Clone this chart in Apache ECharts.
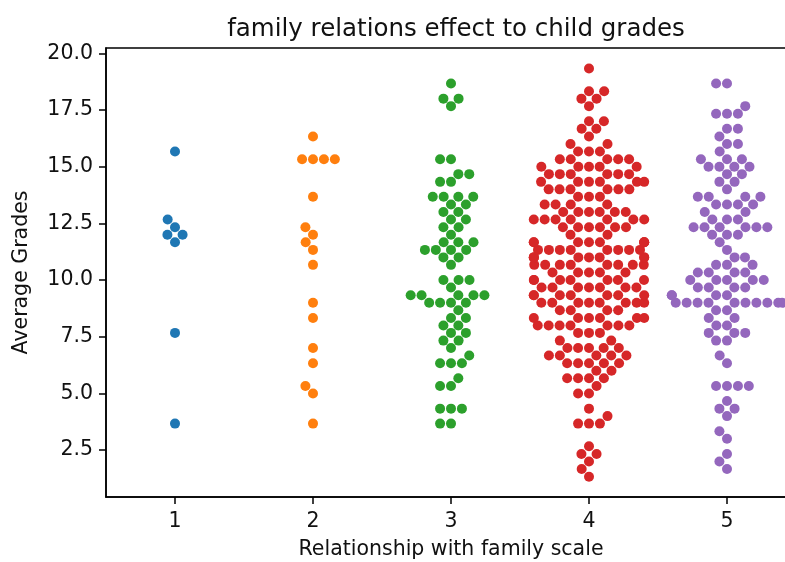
<!DOCTYPE html>
<html>
<head>
<meta charset="utf-8" />
<title>family relations effect to child grades</title>
<script src="https://cdn.jsdelivr.net/npm/echarts@6/dist/echarts.min.js"></script>
</head>
<body style="margin:0">
<div id="main" style="width:785px;height:562px;"></div>
<script type="text/javascript">
// famrel levels and average grades, one value per swarm row with how many students sit on it
const categories = [1, 2, 3, 4, 5];
const colors = ['#1f77b4', '#ff7f0e', '#2ca02c', '#d62728', '#9467bd'];

const fam1Grades = [15.67, 12.67, 12.33, 12, 11.67, 7.67, 3.67];
const fam1Counts = [1, 1, 1, 2, 1, 1, 1];

const fam2Grades = [16.33, 15.33, 13.67, 12.33, 12, 11.67, 11.33, 10.67, 9, 8.33, 7, 6.33, 5.33, 5, 3.67];
const fam2Counts = [1, 4, 1, 1, 1, 1, 1, 1, 1, 1, 1, 1, 1, 1, 1];

const fam3Grades = [18.67, 18, 17.67, 15.33, 14.67, 14.33, 13.67, 13.33, 13, 12.67, 12.33, 12, 11.67, 11.33, 11,
  10.67, 10, 9.67, 9.33, 9, 8.67, 8.33, 8, 7.67, 7.33, 7, 6.67, 6.33, 5.67, 5.33, 4.33, 3.67];
const fam3Counts = [1, 2, 1, 2, 2, 2, 4, 2, 2, 2, 2, 1, 3, 4, 2, 1, 3, 1, 5, 4, 1, 2, 2, 2, 2, 1, 1, 3, 1, 2, 3, 2];

const fam4Grades = [19.33, 18.33, 18, 17.67, 17, 16.67, 16.33, 16, 15.67, 15.33, 15, 14.67, 14.33, 14, 13.67, 13.33,
  13, 12.67, 12.33, 12, 11.67, 11.33, 11, 10.67, 10.33, 10, 9.67, 9.33, 9, 8.67, 8.33, 8, 7.67, 7.33, 7, 6.67,
  6.33, 6, 5.67, 5.33, 5, 4.33, 4, 3.67, 2.67, 2.33, 2, 1.67, 1.33];
const fam4Counts = [1, 2, 2, 1, 2, 2, 1, 2, 3, 5, 5, 6, 6, 6, 3, 4, 6, 7, 6, 2, 8, 8, 8, 8, 5, 7, 7, 7, 8, 4,
  6, 7, 3, 2, 5, 5, 5, 2, 4, 1, 2, 1, 1, 3, 1, 2, 1, 1, 1];

const fam5Grades = [18.67, 17.67, 17.33, 16.67, 16.33, 16, 15.67, 15.33, 15, 14.67, 14.33, 14, 13.67, 13.33, 13,
  12.67, 12.33, 12, 11.67, 11.33, 11, 10.67, 10.33, 10, 9.67, 9.33, 9, 8.67, 8.33, 8, 7.67, 7.33, 6.67, 6.33,
  5.33, 4.67, 4.33, 4, 3.33, 3, 2.33, 2, 1.67];
const fam5Counts = [2, 1, 3, 2, 1, 2, 1, 3, 4, 2, 2, 1, 4, 4, 2, 3, 6, 3, 1, 1, 2, 3, 4, 5, 4, 4, 10, 2, 2, 2, 3,
  2, 1, 1, 4, 1, 2, 1, 1, 1, 1, 1, 1];

const yTicks = [2.5, 5, 7.5, 10, 12.5, 15, 17.5, 20];

const grades = [fam1Grades, fam2Grades, fam3Grades, fam4Grades, fam5Grades];
const counts = [fam1Counts, fam2Counts, fam3Counts, fam4Counts, fam5Counts];

// plot box (matplotlib axes), the right side runs past the window edge
const gridLeft = 106, gridTop = 48, gridWidth = 690, gridHeight = 449;
const yMin = 0.4333, yMax = 20.2333;
const catPx = gridWidth / categories.length;
const pxPerUnit = gridHeight / (yMax - yMin);
const D = 10.4;            // marker diameter in px used by the swarm
const halfWidth = 0.4;     // gutter, in category units

// seaborn style beeswarm: place points bottom-up, closest free spot to the midline
function beeswarm(ys) {
  const out = [];
  ys.forEach(y => {
    const nb = [];
    for (let j = out.length - 1; j >= 0; j--) {
      if (y - out[j][1] < D) nb.push(out[j]);
      else break;
    }
    const cand = [[0, y]];
    let leftFirst = true;
    nb.forEach(([xj, yj]) => {
      const dy = y - yj;
      const dx = Math.sqrt(Math.max(D * D - dy * dy, 0)) * 1.05;
      const cl = [xj - dx, y], cr = [xj + dx, y];
      if (leftFirst) cand.push(cl, cr); else cand.push(cr, cl);
      leftFirst = !leftFirst;
    });
    cand.sort((a, b) => Math.abs(a[0]) - Math.abs(b[0]));
    let pick = cand[0];
    if (nb.length) {
      pick = cand.find(c => nb.every(([xj, yj]) => (xj - c[0]) ** 2 + (yj - c[1]) ** 2 >= D * D - 1e-6)) || cand[0];
    }
    out.push(pick);
  });
  return out;
}

const series = categories.map((cat, i) => {
  const vals = [];
  grades[i].forEach((g, k) => {
    for (let n = 0; n < counts[i][k]; n++) vals.push(g);
  });
  vals.sort((a, b) => a - b);
  const swarm = beeswarm(vals.map(v => v * pxPerUnit));
  const data = swarm.map(([px], k) => {
    let off = px / catPx;
    off = Math.max(-halfWidth, Math.min(halfWidth, off));
    return [cat + off, vals[k]];
  });
  return {
    type: 'scatter',
    data: data,
    symbolSize: 10,
    itemStyle: { color: colors[i], opacity: 1 },
    emphasis: { disabled: true },
    clip: true
  };
});

var myChart = echarts.init(document.getElementById('main'), null, { renderer: 'canvas' });

const font = 'DejaVu Sans';
const axisCol = '#000';

myChart.setOption({
  animation: false,
  backgroundColor: '#fff',
  title: {
    text: 'family relations effect to child grades',
    left: gridLeft + gridWidth / 2,
    top: 12,
    textAlign: 'center',
    textStyle: { fontFamily: font, fontSize: 24.5, fontWeight: 'normal', color: '#111' }
  },
  grid: {
    left: gridLeft, top: gridTop, width: gridWidth, height: gridHeight,
    outerBoundsMode: 'none',
    containLabel: false,
    show: true, borderColor: axisCol, borderWidth: 1.5, backgroundColor: 'transparent'
  },
  xAxis: {
    type: 'value',
    min: 0.5, max: 5.5,
    name: 'Relationship with family scale',
    nameLocation: 'middle',
    nameGap: 42,
    nameTextStyle: { fontFamily: font, fontSize: 20.5, color: '#111' },
    axisLine: { show: true, lineStyle: { color: axisCol, width: 1.5 } },
    axisTick: { show: true, length: 7, lineStyle: { color: axisCol, width: 1.5 }, customValues: categories },
    axisLabel: { fontFamily: font, fontSize: 20.5, color: '#111', margin: 14, customValues: categories,
      formatter: v => String(v) },
    splitLine: { show: false }
  },
  yAxis: {
    type: 'value',
    min: yMin, max: yMax,
    name: 'Average Grades',
    nameLocation: 'middle',
    nameGap: 74,
    nameTextStyle: { fontFamily: font, fontSize: 20.5, color: '#111' },
    axisLine: { show: true, lineStyle: { color: axisCol, width: 1.5 } },
    axisTick: { show: true, length: 7, lineStyle: { color: axisCol, width: 1.5 }, customValues: yTicks },
    axisLabel: { fontFamily: font, fontSize: 20.5, color: '#111', margin: 13, customValues: yTicks,
      formatter: v => v.toFixed(1) },
    splitLine: { show: false }
  },
  series: series
});
</script>
</body>
</html>
